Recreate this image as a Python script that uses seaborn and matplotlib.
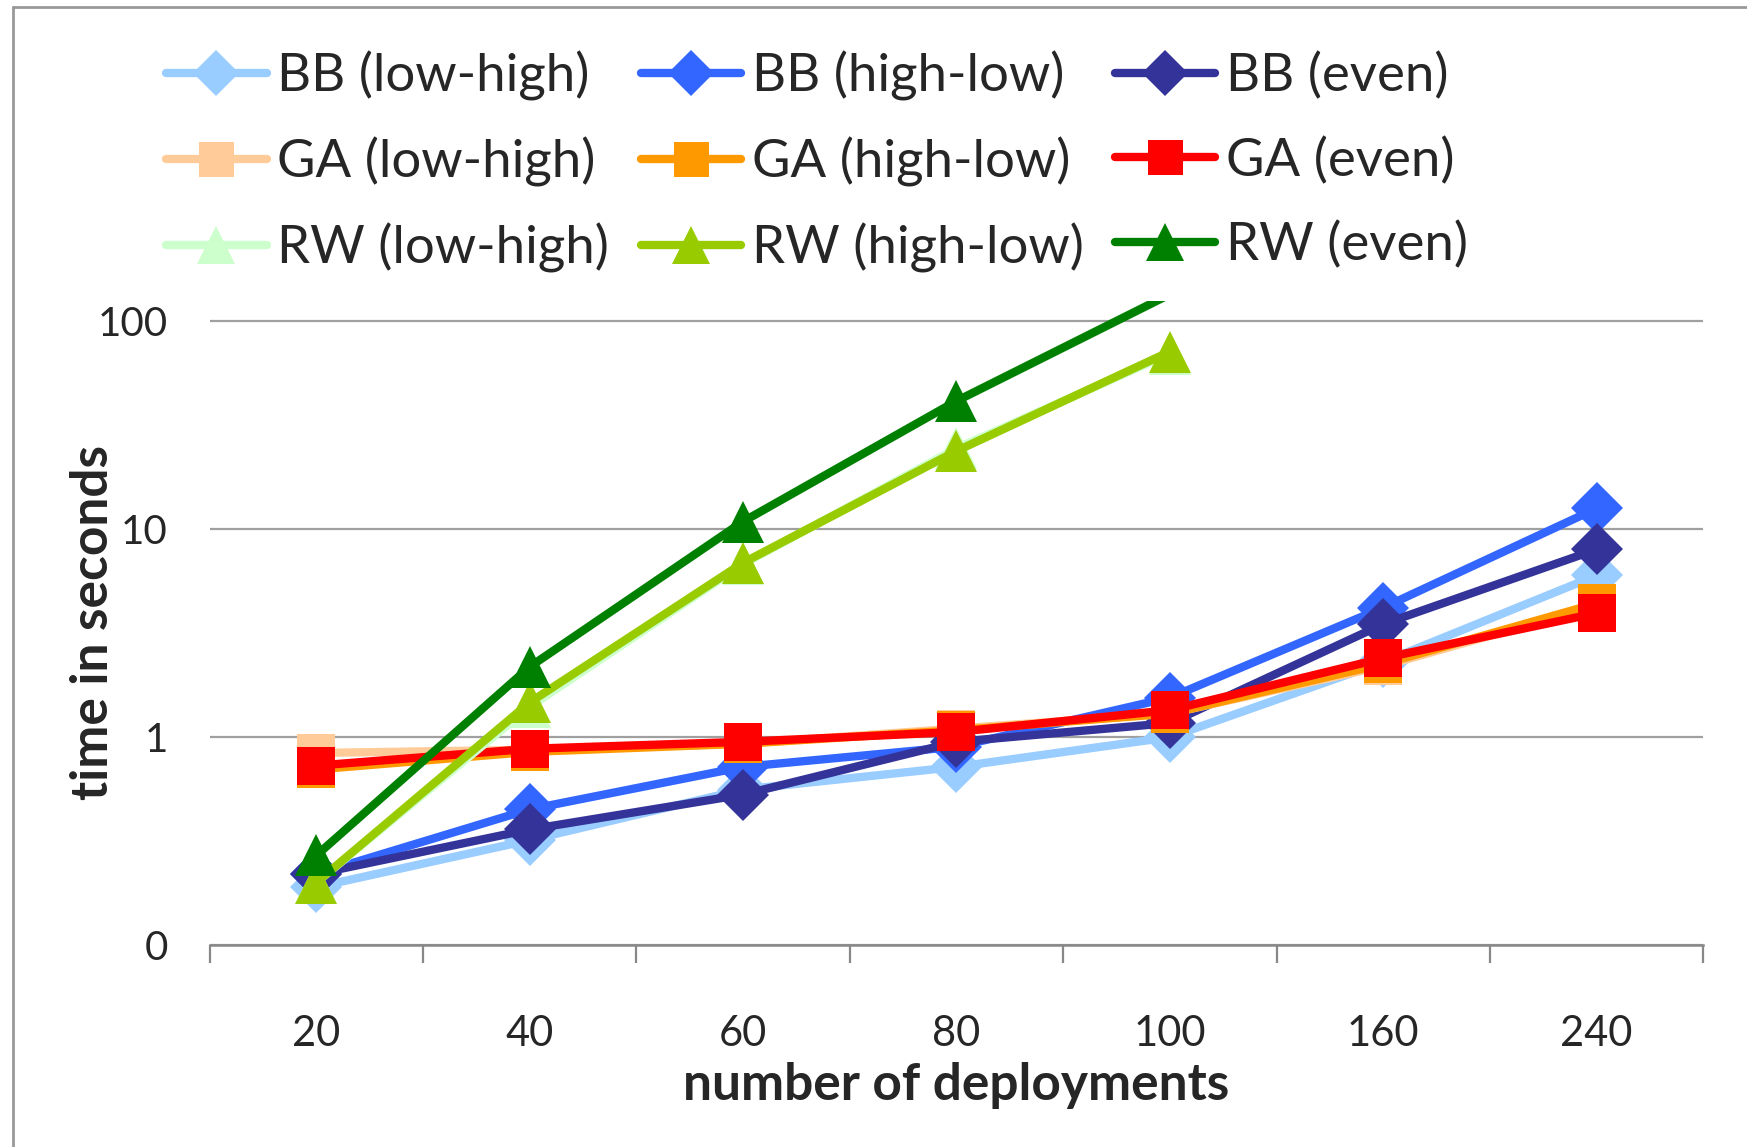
import pandas as pd
import matplotlib.pyplot as plt
import seaborn as sns
import numpy as np
from matplotlib.lines import Line2D

# --- data ---
deployments = ["20", "40", "60", "80", "100", "160", "240"]

bb_low_high = [0.19, 0.32, 0.56, 0.72, 1.0, 2.3, 6.0]
bb_high_low = [0.22, 0.45, 0.72, 0.90, 1.55, 4.2, 12.6]
bb_even = [0.22, 0.36, 0.53, 0.95, 1.17, 3.5, 8.0]

ga_low_high = [0.84, 0.87, 0.93, 1.10, 1.30, 2.2, 4.3]
ga_high_low = [0.70, 0.85, 0.93, 1.08, 1.30, 2.25, 4.4]
ga_even = [0.73, 0.88, 0.95, 1.06, 1.35, 2.4, 3.95]

rw_low_high = [0.20, 1.40, 6.8, 24.5, 70.0, np.nan, np.nan]
rw_high_low = [0.20, 1.47, 6.9, 23.8, 71.6, np.nan, np.nan]
rw_even = [0.27, 2.18, 10.9, 41.4, 135.0, np.nan, np.nan]

y_ticks = [0.1, 1, 10, 100]
y_tick_labels = ["0", "1", "10", "100"]

series = [
    ("BB (low-high)", bb_low_high, "#99CCFF", "D"),
    ("BB (high-low)", bb_high_low, "#3366FF", "D"),
    ("BB (even)", bb_even, "#333399", "D"),
    ("GA (low-high)", ga_low_high, "#FFCC99", "s"),
    ("GA (high-low)", ga_high_low, "#FF9900", "s"),
    ("GA (even)", ga_even, "#FF0000", "s"),
    ("RW (low-high)", rw_low_high, "#CCFFCC", "^"),
    ("RW (high-low)", rw_high_low, "#99CC00", "^"),
    ("RW (even)", rw_even, "#008000", "^"),
]

y_top = 126

sns.set_style("white")
plt.rcParams['font.family'] = ['Lato', 'DejaVu Sans']

fig = plt.figure(figsize=(17.47, 11.47), dpi=100)
ax = fig.add_axes([0.12, 0.176, 0.855, 0.562])

for name, vals, color, marker in series:
    df = pd.DataFrame({'deployments': deployments, 'time': vals}).dropna()
    msize = 26 if marker == "D" else (28 if marker == "s" else 30)
    # like the original, markers outside the plot area are not drawn
    show = list(df['time'] <= y_top)
    sns.lineplot(data=df, x='deployments', y='time', ax=ax, color=color,
                 marker=marker, markersize=msize, markeredgewidth=0,
                 markevery=show, linewidth=6, label=name, sort=False)

ax.set_yscale('log')
ax.set_ylim(0.1, y_top)
ax.set_yticks(y_ticks)
ax.set_yticklabels(y_tick_labels)
ax.minorticks_off()
ax.yaxis.grid(True, color='#A0A0A0', linewidth=1.6)
ax.tick_params(axis='y', length=0, pad=30, labelsize=29)

# category ticks: marks on boundaries, labels centered
n = len(deployments)
ax.set_xlim(-0.5, n - 0.5)
ax.set_xticks(np.arange(-0.5, n, 1.0))
ax.set_xticklabels([])
ax.set_xticks(np.arange(n), minor=True)
ax.set_xticklabels(deployments, minor=True)
ax.tick_params(axis='x', which='major', direction='out', length=13,
               width=1.6, color='#888888', bottom=True)
ax.tick_params(axis='x', which='minor', length=0, pad=50, labelsize=30)

for s in ['left', 'right', 'top']:
    ax.spines[s].set_visible(False)
ax.spines['bottom'].set_color('#888888')
ax.spines['bottom'].set_linewidth(1.8)

ax.set_xlabel('number of deployments', fontsize=37, fontweight='bold', labelpad=7)
ax.set_ylabel('time in seconds', fontsize=37, fontweight='bold', labelpad=-14)

handles, labels = ax.get_legend_handles_labels()
ax.get_legend().remove()
# legend fills row by row in the original
order = [0, 3, 6, 1, 4, 7, 2, 5, 8]
fig.legend([handles[i] for i in order], [labels[i] for i in order],
           loc='upper left', bbox_to_anchor=(0.068, 0.997),
           ncol=3, frameon=False, fontsize=38, handlelength=1.9,
           handletextpad=0.2, columnspacing=0.6, labelspacing=0.68,
           markerscale=0.9)

# frame lines on the left and top edge
fig.add_artist(Line2D([0.0075, 0.0075], [0, 0.994], transform=fig.transFigure,
                      color='#999999', linewidth=2))
fig.add_artist(Line2D([0.0075, 1], [0.994, 0.994], transform=fig.transFigure,
                      color='#999999', linewidth=2))

fig.savefig('out.png', dpi=100)
